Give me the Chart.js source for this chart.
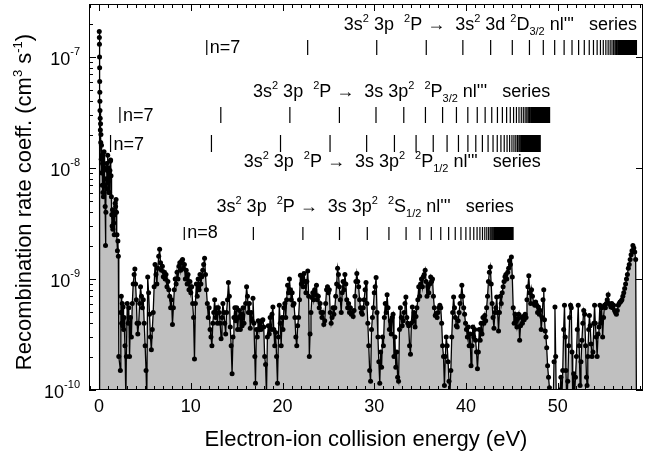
<!DOCTYPE html>
<html>
<head>
<meta charset="utf-8">
<script src="https://cdn.jsdelivr.net/npm/chart.js@4.4.1/dist/chart.umd.min.js"></script>
<style>
  body { margin: 0; background: #fff; }
  canvas { display: block; }
</style>
</head>
<body>
<canvas id="drChart" width="647" height="459"></canvas>
<script>
// energies in eV, rate coefficients in units of 1e-10 cm^3 s^-1
var energyA = [0, 0.02, 0.03, 0.04, 0.05, 0.06, 0.07, 0.08, 0.09, 0.10, 0.12, 0.14, 0.16, 0.18, 0.20,
  0.23, 0.26, 0.29, 0.32, 0.35, 0.38, 0.41, 0.44, 0.47, 0.50, 0.54, 0.58, 0.62, 0.66, 0.70,
  0.74, 0.78, 0.82, 0.86, 0.90, 0.94, 0.98, 1.02, 1.06, 1.10, 1.14, 1.18, 1.22, 1.26, 1.30,
  1.34, 1.38, 1.42, 1.46, 1.50, 1.55, 1.60, 1.65, 1.70, 1.75, 1.80, 1.85, 1.90, 1.95, 2.00,
  2.05, 2.10, 2.15];
var rateA = [0.5, 1700, 1500, 1300, 1000, 800, 600, 480, 400, 330, 280, 220, 250, 170, 200,
  120, 160, 90, 130, 70, 110, 60, 95, 55, 100, 140, 70, 100, 45, 20,
  40, 80, 110, 65, 95, 130, 75, 100, 60, 90, 60, 95, 115, 118, 85,
  55, 38, 30, 42, 28, 40, 32, 25, 38, 48, 45, 52, 40, 25, 18,
  22, 16, 2];

var energyB = [2.32, 2.37, 2.42, 2.47, 2.52, 2.57, 2.62, 2.67, 2.72, 2.82, 2.92, 2.97, 3.07, 3.17, 3.24,
  3.32, 3.42, 3.52, 3.62, 3.72, 3.82, 3.90, 3.98, 4.06, 4.14, 4.22, 4.32, 4.42, 4.52, 4.62,
  4.72, 4.82, 4.92, 5.02, 5.12, 5.20,
  5.3, 5.4, 5.5, 5.6, 5.7, 5.8, 5.9, 6.0, 6.1, 6.2,
  6.3, 6.4, 6.5, 6.6, 6.7, 6.8, 6.9, 7.0, 7.1, 7.2,
  7.3, 7.4, 7.5, 7.6, 7.7, 7.8, 7.9, 8.0, 8.1, 8.2,
  8.3, 8.4, 8.5, 8.6, 8.7, 8.8, 8.9, 9.0, 9.1, 9.2,
  9.3, 9.4, 9.5, 9.6, 9.7, 9.8, 9.9, 10.0, 10.1, 10.2,
  10.3, 10.4, 10.5, 10.6, 10.7, 10.8, 10.9, 11.0, 11.1, 11.2,
  11.3, 11.4, 11.5, 11.6, 11.7, 11.8, 11.9, 12.0, 12.1, 12.2,
  12.3, 12.4, 12.5, 12.6, 12.7, 12.8, 12.9, 13.0, 13.1, 13.2,
  13.3, 13.4, 13.5, 13.6, 13.7, 13.8, 13.9, 14.0, 14.1, 14.2,
  14.3, 14.4, 14.5, 14.6, 14.7, 14.8, 14.9, 15.0, 15.1, 15.2,
  15.3, 15.4, 15.5, 15.6, 15.7, 15.8];
var rateB = [1.5, 5.0, 7.0, 4.0, 6.0, 3.8, 5.6, 3.5, 4.5, 2.5, 0.8, 2.0, 6.0, 4.0, 5.5,
  2.0, 4.5, 3.0, 6.0, 9.0, 11.0, 12.3, 9.0, 6.5, 4.0, 3.2, 4.0, 6.0, 8.5, 7.0,
  5.5, 6.5, 4.0, 2.5, 1.5, 0.8,
  10.4, 7.5, 4.8, 3.0, 2.3, 3.5, 5.0, 8.5, 13.5, 11.0,
  9.0, 12.5, 16.0, 18.5, 14.0, 12.0, 13.0, 10.5, 11.5, 10.0,
  11.0, 8.5, 9.5, 8.0, 7.0, 5.5, 6.5, 3.9, 5.5, 8.0,
  10.0, 9.0, 11.5, 10.0, 13.0, 14.0, 12.0, 14.5, 15.0, 12.5,
  13.5, 10.0, 12.0, 9.0, 11.0, 8.0, 9.5, 7.5, 8.5, 6.0,
  4.5, 1.9, 6.0, 9.0, 7.0, 10.0, 8.0, 11.0, 9.0, 10.5,
  12.0, 13.5, 15.4, 11.0, 8.0, 6.0, 4.5, 5.5, 3.5, 3.0,
  2.5, 4.0, 5.0, 6.5, 4.5, 5.5, 4.0, 5.5, 5.0, 4.0,
  2.9, 4.5, 6.0, 5.0, 4.0, 3.2, 5.0, 6.5, 9.3, 7.0,
  3.7, 2.5, 1.4, 3.0, 4.5, 5.5, 4.2, 5.5, 3.5, 4.5,
  5.2, 3.5, 4.8, 3.8, 5.5, 4.0];

var energyC = [15.98, 16.08, 16.18, 16.28, 16.38, 16.48, 16.58, 16.68, 16.78, 16.88, 16.98,
  17.05, 17.15, 17.25, 17.35, 17.45, 17.55, 17.65, 17.75, 17.85, 17.95,
  18.05, 18.15, 18.25, 18.35, 18.45, 18.55, 18.65, 18.75, 18.85, 18.95,
  19.05, 19.15, 19.25, 19.35, 19.45, 19.55, 19.65, 19.75, 19.85, 19.95,
  20.05, 20.15, 20.25, 20.35, 20.45, 20.55, 20.65, 20.75, 20.85, 20.95,
  21.05, 21.15, 21.25, 21.35, 21.45, 21.55, 21.65, 21.75, 21.85, 21.95,
  22.05, 22.15, 22.25, 22.35, 22.45, 22.55, 22.65, 22.75, 22.85,
  22.92,
  23.0, 23.1, 23.2, 23.3, 23.4, 23.5, 23.6, 23.7, 23.8, 23.9,
  24.0, 24.1, 24.2, 24.3, 24.4, 24.5, 24.6, 24.7, 24.8, 24.9,
  25.0, 25.1, 25.2, 25.3, 25.4, 25.5, 25.6, 25.7, 25.8, 25.9,
  26.0, 26.1, 26.2, 26.3, 26.4, 26.5, 26.6, 26.7, 26.8, 26.9,
  27.0, 27.1, 27.2, 27.3, 27.4, 27.5, 27.6, 27.7, 27.8, 27.9,
  28.0, 28.1, 28.2, 28.3, 28.4, 28.5, 28.6, 28.7, 28.8, 28.9,
  29.0, 29.1, 29.2, 29.3, 29.4, 29.5, 29.6, 29.7, 29.8, 29.9,
  30.0, 30.1, 30.2, 30.3, 30.4, 30.5, 30.6, 30.7, 30.8, 30.9,
  31.0, 31.1, 31.2, 31.3, 31.4, 31.5];
var rateC = [6.0, 8.5, 7.0, 5.0, 6.0, 3.6, 5.0, 4.2, 6.7, 4.0, 2.0,
  1.15, 3.5, 3.0, 4.2, 3.5, 4.0, 3.5, 4.2, 4.3, 3.7,
  2.0, 1.7, 0.9, 3.0, 3.8, 3.2, 4.5, 3.5, 4.8, 5.6,
  3.5, 2.5, 3.3, 2.0, 1.15, 3.0, 5.8, 4.0, 2.5, 4.5,
  3.5, 5.5, 6.0, 4.5, 6.5, 8.8, 7.5, 10.0, 8.0, 6.5,
  7.5, 5.8, 6.0, 4.5, 3.0, 2.5, 3.8, 4.5, 6.5, 10.8,
  9.0, 10.5, 8.5, 11.2, 9.5, 7.5, 9.5, 11.8, 7.0,
  2.0,
  3.2, 5.0, 6.8, 7.5, 6.5, 8.0, 7.2, 8.8, 6.5, 7.0,
  5.5, 6.0, 5.0, 4.5, 5.0, 3.9, 4.2, 6.0, 8.0, 8.5,
  7.5, 8.0, 5.0, 4.0, 4.5, 5.5, 4.8, 5.5, 7.0, 9.0,
  12.5, 11.0, 8.5, 6.5, 5.0, 7.5, 9.5, 8.0, 11.0, 9.0,
  6.5, 5.5, 6.0, 5.0, 5.5, 4.8, 5.0, 4.6, 5.2, 7.0,
  9.5, 11.2, 9.5, 8.5, 6.5, 5.5, 5.0, 4.8, 5.5, 6.5,
  8.0, 9.3, 6.0, 4.0, 2.5, 1.5, 1.2, 3.5, 4.5, 5.5,
  7.5, 8.5, 10.3, 5.0, 3.0, 1.8, 1.15, 2.2, 1.6, 3.0,
  2.5, 4.5, 6.0, 5.0, 7.2, 5.5];

var energyD = [31.65, 31.75, 31.85, 31.95, 32.05, 32.15, 32.25, 32.35, 32.45, 32.55,
  32.65, 32.75, 32.85, 32.95, 33.05, 33.15, 33.25, 33.35, 33.45, 33.55,
  33.65, 33.75, 33.85, 33.95, 34.05, 34.15, 34.25, 34.35, 34.45, 34.55,
  34.65, 34.75, 34.85, 34.95, 35.05, 35.15, 35.25, 35.35, 35.45, 35.55,
  35.65, 35.75, 35.85, 35.95, 36.05, 36.15, 36.25, 36.35, 36.45, 36.55,
  36.65, 36.75, 36.85, 36.95, 37.05, 37.15, 37.25, 37.35, 37.45, 37.55,
  37.65, 37.75, 37.85, 37.95, 38.05, 38.15, 38.25, 38.35, 38.45, 38.55,
  38.65, 38.75, 38.85, 38.95, 39.05, 39.15, 39.25, 39.35, 39.45, 39.55,
  39.65, 39.75, 39.85, 39.95, 40.05, 40.15, 40.25, 40.35, 40.45, 40.55,
  40.65, 40.75, 40.85, 40.95, 41.05, 41.15, 41.25, 41.35, 41.45, 41.55,
  41.65, 41.75, 41.85, 41.95, 42.05, 42.15, 42.25, 42.35, 42.45, 42.55,
  42.65, 42.75, 42.85, 42.95, 43.05, 43.15, 43.25, 43.35, 43.45, 43.55,
  43.65, 43.75, 43.85, 43.95, 44.05, 44.15, 44.25, 44.35, 44.45, 44.55,
  44.65, 44.75, 44.85, 44.95, 45.05, 45.15, 45.25, 45.35, 45.45, 45.55,
  45.65, 45.75, 45.85, 45.95, 46.05, 46.15, 46.25, 46.35, 46.45, 46.55,
  46.65, 46.75, 46.85, 46.95, 47.05, 47.15, 47.25];
var rateD = [3.5, 4.2, 3.2, 4.5, 4.8, 2.0, 3.0, 1.6, 2.2, 1.3,
  1.2, 3.5, 5.5, 4.5, 3.8, 4.2, 5.0, 6.0, 6.9, 4.5,
  4.0, 3.8, 2.5, 2.1, 4.0, 5.6, 4.2, 5.0, 3.7, 4.6,
  5.5, 6.5, 8.5, 7.0, 9.0, 10.0, 8.5, 10.5, 11.0, 12.0,
  9.5, 7.0, 8.5, 7.5, 9.0, 10.4, 9.5, 10.0, 7.0, 5.5,
  4.7, 4.9, 4.5, 5.0, 5.5, 5.8, 5.5, 4.0, 2.5, 2.0,
  1.1, 2.0, 3.0, 2.5, 1.8, 1.2, 0.9, 1.5, 3.0, 5.0,
  6.9, 5.5, 4.5, 3.8, 3.7, 4.2, 5.0, 6.0, 7.0, 8.8,
  7.0, 5.5, 4.8, 4.0, 3.5, 3.0, 3.7, 2.5, 3.2, 1.65,
  2.5, 3.7, 3.0, 3.5, 2.8, 2.2, 1.55, 2.2, 3.5, 2.8,
  4.0, 3.2, 4.5, 4.0, 4.7, 4.2, 5.5, 7.0, 9.5, 11.5,
  12.8, 9.0, 6.0, 4.5, 3.6, 5.0, 5.5, 6.9, 5.0, 3.4,
  5.0, 7.0, 6.0, 7.5, 8.5, 9.5, 10.5, 11.0, 10.0, 11.5,
  12.5, 14.6, 13.5, 15.8, 10.4, 5.5, 4.0, 4.8, 4.2, 3.7,
  4.4, 4.8, 2.8, 3.8, 4.5, 4.0, 4.6, 4.3, 4.8, 4.5,
  6.5, 8.5, 10.7, 7.5, 6.0, 8.0, 7.0];

var energyE = [47.40, 47.50, 47.60, 47.70, 47.80, 47.90, 48.00, 48.10, 48.20, 48.30,
  48.40, 48.48, 48.56, 48.64, 48.72, 48.80, 48.90, 49.00, 49.10, 49.20,
  49.30, 49.40, 49.50, 49.60, 49.70, 49.78, 49.86, 49.95, 50.05, 50.15,
  50.25, 50.35, 50.45, 50.55, 50.65, 50.74, 50.82, 50.90, 51.00, 51.10,
  51.20, 51.30, 51.40, 51.48, 51.56, 51.64, 51.74, 51.84, 51.94, 52.04,
  52.14, 52.24, 52.34, 52.44, 52.54, 52.64, 52.74, 52.84, 52.94, 53.04,
  53.14, 53.20, 53.28, 53.38, 53.46, 53.54, 53.64, 53.74, 53.84, 53.94,
  54.02, 54.10, 54.20, 54.30, 54.40, 54.50, 54.60, 54.70, 54.80, 54.90,
  55.00, 55.10, 55.20, 55.30, 55.40, 55.50, 55.60, 55.70, 55.80, 55.90,
  56.00, 56.10, 56.20, 56.30, 56.40, 56.50, 56.60, 56.70, 56.80, 56.90,
  57.00, 57.10, 57.20, 57.30, 57.40, 57.50, 57.60, 57.70, 57.80, 57.90,
  58.00, 58.10, 58.20, 58.30, 58.40, 58.50, 58.60];
var rateE = [6.0, 5.8, 6.2, 5.8, 5.0, 5.6, 4.8, 5.2, 3.5, 4.5,
  6.5, 8.0, 4.3, 3.4, 3.0, 2.4, 1.65, 1.3, 1.05, 0.9,
  0.6, 0.6, 0.7, 1.8, 5.6, 2.0, 0.7, 0.6, 0.7, 0.8,
  1.0, 1.3, 0.8, 1.5, 3.5, 5.8, 3.0, 1.5, 0.7, 1.2,
  2.5, 4.5, 5.8, 5.5, 2.2, 0.8, 1.4, 0.9, 1.3, 2.0,
  3.5, 5.8, 2.5, 1.1, 1.8, 2.8, 4.0, 5.2, 4.8, 2.5,
  1.3, 1.1, 2.0, 3.5, 4.7, 3.8, 2.6, 2.0, 2.2, 4.0,
  5.8, 4.0, 3.0, 2.0, 3.2, 3.7, 5.8, 4.0, 5.5, 3.0,
  4.5, 5.8, 5.5, 6.0, 6.5, 7.2, 6.0, 5.9, 5.6, 6.0,
  5.5, 5.8, 5.2, 5.0, 4.8, 5.2, 5.8, 6.0, 6.2, 6.3,
  6.5, 7.0, 7.5, 8.2, 9.0, 10.0, 11.0, 12.5, 13.5, 15.0,
  16.5, 18.0, 20.0, 19.0, 17.5, 15.0, 0.5];

// axis ticks
var xTickLabels = [0, 10, 20, 30, 40, 50];
var yTickExponents = [-10, -9, -8, -7];

// Rydberg series: limits (eV), first n shown, and n -> binding energy below the limit (eV)
var seriesLimit = [58.65, 49.18, 48.16, 45.2];
var seriesFirstN = [7, 7, 7, 8];
var rydbergN = [7, 8, 9, 10, 11, 12, 13, 14, 15, 16, 17, 18, 19, 20, 21, 22, 23, 24, 25, 26,
  27, 28, 29, 30, 31, 32, 33, 34, 35, 36, 37, 38, 39, 40];
var rydbergOffset = [46.91, 35.91, 28.38, 22.98, 18.99, 15.96, 13.60, 11.73, 10.22, 8.98,
  7.95, 7.09, 6.37, 5.75, 5.21, 4.75, 4.35, 3.99, 3.68, 3.40,
  3.15, 2.93, 2.73, 2.55, 2.39, 2.25, 2.11, 1.99, 1.88, 1.77,
  1.68, 1.59, 1.51, 1.44];
var seriesTitles = [
  [['3s', ''], ['2', 'sup'], [' 3p  ', ''], ['2', 'sup'], ['P \u2192  3s', ''], ['2', 'sup'], [' 3d ', ''], ['2', 'sup'], ['D', ''], ['3/2', 'sub'], [" nl'''   series", '']],
  [['3s', ''], ['2', 'sup'], [' 3p  ', ''], ['2', 'sup'], ['P \u2192  3s 3p', ''], ['2', 'sup'], ['  ', ''], ['2', 'sup'], ['P', ''], ['3/2', 'sub'], [" nl'''   series", '']],
  [['3s', ''], ['2', 'sup'], [' 3p  ', ''], ['2', 'sup'], ['P \u2192  3s 3p', ''], ['2', 'sup'], ['  ', ''], ['2', 'sup'], ['P', ''], ['1/2', 'sub'], [" nl'''   series", '']],
  [['3s', ''], ['2', 'sup'], [' 3p  ', ''], ['2', 'sup'], ['P \u2192  3s 3p', ''], ['2', 'sup'], ['  ', ''], ['2', 'sup'], ['S', ''], ['1/2', 'sub'], [" nl'''   series", '']]
];
var xTitle = [['Electron-ion collision energy (eV)', '']];
var yTitle = [['Recombination rate coeff. (cm', ''], ['3', 'sup'], [' s', ''], ['-1', 'sup'], [')', '']];

// pixel rows for the series markers
var seriesRows = [
  { top: 40, bottom: 55, text: 30 },
  { top: 107, bottom: 123, text: 97 },
  { top: 135, bottom: 152, text: 167 },
  { top: 227, bottom: 240, text: 212 }
];

var FAMILY = '"Liberation Sans", Arial, Helvetica, sans-serif';

function drawRich(ctx, parts, x, y, size, align, raise) {
  raise = raise || 0.42;
  function fontOf(kind) { return (kind ? Math.round(size * 0.6) : size) + 'px ' + FAMILY; }
  var width = 0;
  parts.forEach(function (p) { ctx.font = fontOf(p[1]); width += ctx.measureText(p[0]).width; });
  var cx = align === 'right' ? x - width : (align === 'center' ? x - width / 2 : x);
  ctx.textAlign = 'left';
  ctx.textBaseline = 'alphabetic';
  parts.forEach(function (p) {
    ctx.font = fontOf(p[1]);
    var dy = p[1] === 'sup' ? -raise * size : (p[1] === 'sub' ? 0.3 * size : 0);
    ctx.fillText(p[0], cx, y + dy);
    cx += ctx.measureText(p[0]).width;
  });
}

var decorations = {
  id: 'decorations',
  afterDatasetsDraw: function (chart) {
    var ctx = chart.ctx, a = chart.chartArea, xs = chart.scales.x, ys = chart.scales.y;
    ctx.save();
    ctx.strokeStyle = '#000';
    ctx.fillStyle = '#000';
    ctx.lineWidth = 1;

    // frame and inward ticks
    ctx.strokeRect(a.left + 0.5, a.top + 0.5, a.right - a.left - 1, a.bottom - a.top - 1);
    ctx.beginPath();
    for (var e = Math.ceil(xs.min); e <= xs.max; e++) {
      var px = Math.round(xs.getPixelForValue(e)) + 0.5;
      var len = e % 10 === 0 ? 7 : 4;
      ctx.moveTo(px, a.bottom); ctx.lineTo(px, a.bottom - len);
      ctx.moveTo(px, a.top); ctx.lineTo(px, a.top + len);
    }
    yTickExponents.forEach(function (p) {
      for (var m = 1; m <= 9; m++) {
        var v = m * Math.pow(10, p);
        if (v > ys.max) break;
        var py = Math.round(ys.getPixelForValue(v)) + 0.5;
        var l = m === 1 ? 7 : 4;
        ctx.moveTo(a.left, py); ctx.lineTo(a.left + l, py);
        if (m === 1) { ctx.moveTo(a.right, py); ctx.lineTo(a.right - l, py); }
      }
    });
    ctx.stroke();

    // tick labels
    ctx.font = '18px ' + FAMILY;
    ctx.textAlign = 'center';
    xTickLabels.forEach(function (v) {
      ctx.fillText(String(v), xs.getPixelForValue(v), a.bottom + 22);
    });
    yTickExponents.forEach(function (p) {
      var py = ys.getPixelForValue(Math.pow(10, p));
      drawRich(ctx, [['10', ''], [String(p), 'sup']], a.left - 9, py + 8, 18, 'right', 0.58);
    });

    // axis titles
    drawRich(ctx, xTitle, (a.left + a.right) / 2, 446, 22, 'center');
    ctx.save();
    ctx.translate(31, (a.top + a.bottom) / 2 + 5);
    ctx.rotate(-Math.PI / 2);
    drawRich(ctx, yTitle, 0, 0, 22, 'center');
    ctx.restore();

    // Rydberg series markers, closing with a solid block up to the series limit
    ctx.lineWidth = 1.2;
    seriesLimit.forEach(function (lim, s) {
      var row = seriesRows[s];
      var firstPx = null;
      ctx.beginPath();
      rydbergN.forEach(function (n, k) {
        if (n < seriesFirstN[s]) return;
        var mx = xs.getPixelForValue(lim - rydbergOffset[k]);
        if (firstPx === null) firstPx = mx;
        ctx.moveTo(mx, row.top); ctx.lineTo(mx, row.bottom);
      });
      ctx.stroke();
      var x0 = xs.getPixelForValue(lim - rydbergOffset[rydbergOffset.length - 1]);
      var x1 = xs.getPixelForValue(lim);
      ctx.fillRect(x0, row.top, x1 - x0, row.bottom - row.top);
      ctx.font = '18px ' + FAMILY;
      ctx.textAlign = 'left';
      ctx.fillText('n=' + seriesFirstN[s], firstPx + 3, row.bottom - 2);
      drawRich(ctx, seriesTitles[s], x1, row.text, 18, 'right');
    });
    ctx.restore();
  }
};

var energy = energyA.concat(energyB, energyC, energyD, energyE);
var rate = rateA.concat(rateB, rateC, rateD, rateE);
var points = energy.map(function (e, i) { return { x: e, y: rate[i] * 1e-10 }; });

var drChart = new Chart(document.getElementById('drChart'), {
  type: 'line',
  data: {
    datasets: [{
      label: 'Recombination rate coefficient',
      data: points,
      borderColor: '#000',
      borderWidth: 1.3,
      backgroundColor: '#c0c0c0',
      fill: 'start',
      pointRadius: 2.5,
      pointBackgroundColor: '#000',
      pointBorderWidth: 0,
      tension: 0
    }]
  },
  options: {
    responsive: false,
    devicePixelRatio: 1,
    animation: false,
    parsing: false,
    layout: { padding: { left: 89, right: 2, top: 1, bottom: 69 } },
    plugins: { legend: { display: false }, tooltip: { enabled: false } },
    scales: {
      x: { type: 'linear', min: -1.1, max: 59.3, display: false },
      y: { type: 'logarithmic', min: 1e-10, max: 3e-7, display: false }
    }
  },
  plugins: [decorations]
});
</script>
</body>
</html>
